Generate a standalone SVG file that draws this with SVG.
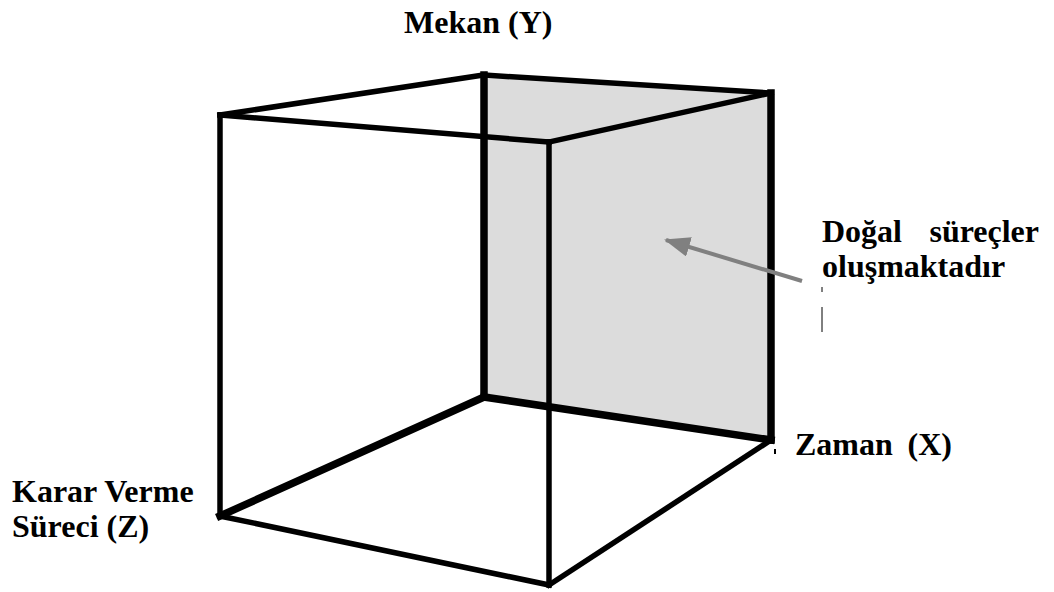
<svg xmlns="http://www.w3.org/2000/svg" width="1054" height="592" viewBox="0 0 1054 592">
<style>
.e{stroke:#000;fill:none;stroke-linecap:square;stroke-linejoin:miter;stroke-width:5.5}
.k{stroke-width:7.5}
.t{font-family:"Liberation Serif","Times New Roman",serif;font-weight:bold;font-size:32px;fill:#000}
</style>
<defs>
<marker id="ah" markerWidth="26" markerHeight="20" refX="24" refY="10" orient="auto" markerUnits="userSpaceOnUse" viewBox="0 0 26 20">
<path d="M0,0 L26,10 L0,20 Z" fill="#808080"/>
</marker>
</defs>
<rect width="1054" height="592" fill="#fff"/>
<g id="face-back-right">
<polygon points="484,75 771,93 771,440 484,397" fill="#dcdcdc"/>
</g>
<g id="connectors">
<line class="e" x1="220" y1="115" x2="484" y2="75"/>
<line class="e" x1="484" y1="75" x2="771" y2="93"/>
<line class="e" x1="771" y1="93" x2="549" y2="142"/>
<line class="e" x1="549" y1="142" x2="220" y2="115"/>
<line class="e" x1="220" y1="115" x2="220" y2="516"/>
<line class="e k" x1="484" y1="75" x2="484" y2="397"/>
<line class="e k" x1="771" y1="93" x2="771" y2="440"/>
<line class="e" x1="549" y1="142" x2="549" y2="585"/>
<line class="e k" x1="220" y1="516" x2="484" y2="397"/>
<line class="e k" x1="484" y1="397" x2="771" y2="440"/>
<line class="e" x1="771" y1="440" x2="549" y2="585"/>
<line class="e" x1="549" y1="585" x2="220" y2="516"/>
<line x1="802" y1="281" x2="666" y2="240" stroke="#808080" stroke-width="4" marker-end="url(#ah)"/>
<line x1="822" y1="287" x2="822" y2="292" stroke="#000" stroke-width="1"/>
<line x1="822" y1="307" x2="822" y2="332" stroke="#000" stroke-width="1"/>
<line x1="775" y1="449" x2="775" y2="454" stroke="#000" stroke-width="2"/>
</g>
<g id="label-mekan"><text class="t" x="404" y="33">Mekan (Y)</text></g>
<g id="label-dogal">
<text class="t" x="822" y="242">Doğal</text>
<text class="t" x="1039" y="242" text-anchor="end">süreçler</text>
<text class="t" x="822" y="277">oluşmaktadır</text>
</g>
<g id="label-zaman">
<text class="t" x="795" y="455">Zaman</text>
<text class="t" x="952" y="455" text-anchor="end">(X)</text>
</g>
<g id="label-karar">
<text class="t" x="12" y="502">Karar Verme</text>
<text class="t" x="12" y="537">Süreci (Z)</text>
</g>
</svg>
